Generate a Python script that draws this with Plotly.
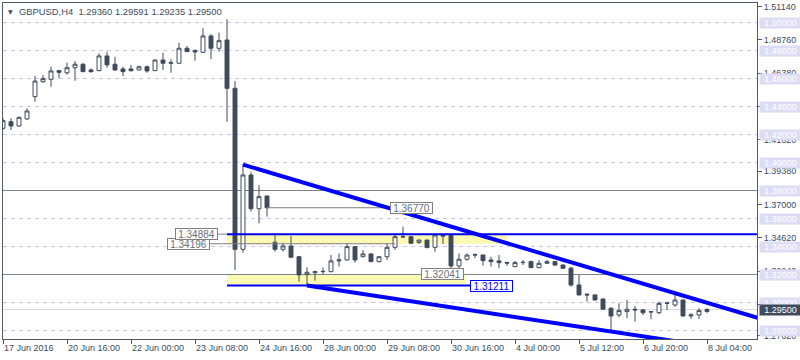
import plotly.graph_objects as go

# ---------------- data ----------------
bar_index = list(range(89))
opens = [1.4244, 1.4291, 1.4261, 1.4311, 1.4470, 1.4577, 1.4594, 1.4656, 1.4641, 1.4677,
         1.4702, 1.4661, 1.4656, 1.4761, 1.4702, 1.4668, 1.4668, 1.4661, 1.4684, 1.4656,
         1.4732, 1.4709, 1.4709, 1.4816, 1.4799, 1.4787, 1.4904, 1.4816, 1.4875, 1.4530,
         1.3380, 1.3911, 1.3670, 1.3761, 1.3430, 1.3380, 1.3404, 1.3327, 1.3199, 1.3213,
         1.3220, 1.3220, 1.3297, 1.3304, 1.3399, 1.3327, 1.3347, 1.3292, 1.3327, 1.3394,
         1.3470, 1.3470, 1.3430, 1.3446, 1.3394, 1.3482, 1.3480, 1.3261, 1.3309, 1.3339,
         1.3339, 1.3304, 1.3297, 1.3285, 1.3256, 1.3285, 1.3292, 1.3249, 1.3280, 1.3292,
         1.3268, 1.3245, 1.3125, 1.3059, 1.3054, 1.3025, 1.2959, 1.2911, 1.2935, 1.2952,
         1.2947, 1.2935, 1.2927, 1.2994, 1.2982, 1.3018, 1.2904, 1.2911, 1.29360]
highs = [1.4316, 1.4316, 1.4327, 1.4387, 1.4618, 1.4625, 1.4684, 1.4661, 1.4713, 1.4725,
         1.4709, 1.4673, 1.4780, 1.4792, 1.4756, 1.4684, 1.4697, 1.4692, 1.4692, 1.4737,
         1.4784, 1.4737, 1.4856, 1.4832, 1.4809, 1.4959, 1.4916, 1.4927, 1.5023, 1.4582,
         1.3987, 1.3934, 1.3839, 1.3761, 1.3494, 1.3427, 1.3475, 1.3330, 1.3251, 1.3227,
         1.3251, 1.3340, 1.3351, 1.3423, 1.3401, 1.3375, 1.3351, 1.3332, 1.3423, 1.3482,
         1.3541, 1.3477, 1.3448, 1.3448, 1.3494, 1.3487, 1.3484, 1.3351, 1.3351, 1.3351,
         1.3343, 1.3327, 1.3340, 1.3292, 1.3297, 1.3304, 1.3299, 1.3304, 1.3304, 1.3294,
         1.3270, 1.3256, 1.3196, 1.3066, 1.3057, 1.3030, 1.2966, 1.2994, 1.3018, 1.2975,
         1.2952, 1.2937, 1.3006, 1.3006, 1.3054, 1.3020, 1.2923, 1.2959, 1.29591]
lows = [1.4232, 1.4232, 1.4255, 1.4305, 1.4434, 1.4570, 1.4541, 1.4602, 1.4627, 1.4584,
        1.4645, 1.4641, 1.4652, 1.4677, 1.4654, 1.4618, 1.4649, 1.4658, 1.4641, 1.4654,
        1.4661, 1.4641, 1.4705, 1.4790, 1.4727, 1.4785, 1.4739, 1.4792, 1.4291, 1.3232,
        1.3356, 1.3649, 1.3566, 1.3613, 1.3363, 1.3363, 1.3320, 1.3149, 1.31211, 1.3156,
        1.3203, 1.3217, 1.3256, 1.3300, 1.3285, 1.3323, 1.3290, 1.3287, 1.3304, 1.3375,
        1.3466, 1.3420, 1.3418, 1.3388, 1.3363, 1.3418, 1.3222, 1.3232, 1.3299, 1.3316,
        1.3263, 1.3256, 1.3245, 1.3261, 1.3254, 1.3268, 1.3245, 1.3245, 1.3276, 1.3261,
        1.3243, 1.3113, 1.3050, 1.3006, 1.3015, 1.2950, 1.2792, 1.2894, 1.2888, 1.2863,
        1.2911, 1.2880, 1.2916, 1.2946, 1.2970, 1.2899, 1.2882, 1.2882, 1.29235]
closes = [1.4299, 1.4261, 1.4323, 1.4368, 1.4582, 1.4599, 1.4654, 1.4644, 1.4677, 1.4702,
          1.4649, 1.4649, 1.4761, 1.4697, 1.4661, 1.4649, 1.4656, 1.4684, 1.4654, 1.4732,
          1.4709, 1.4713, 1.4816, 1.4792, 1.4790, 1.4904, 1.4816, 1.4870, 1.4530, 1.3380,
          1.3911, 1.3670, 1.3756, 1.3677, 1.3380, 1.3404, 1.3323, 1.3197, 1.3216, 1.3220,
          1.3222, 1.3297, 1.3304, 1.3399, 1.3304, 1.3347, 1.3292, 1.3327, 1.3394, 1.3470,
          1.3468, 1.3423, 1.3446, 1.3392, 1.3482, 1.3475, 1.3261, 1.3309, 1.3339, 1.3341,
          1.3299, 1.3292, 1.3285, 1.3282, 1.3285, 1.3287, 1.3249, 1.3280, 1.3292, 1.3268,
          1.3245, 1.3125, 1.3054, 1.3054, 1.3018, 1.2952, 1.2904, 1.2942, 1.2952, 1.2947,
          1.2927, 1.2933, 1.2994, 1.2996, 1.3018, 1.2904, 1.2911, 1.2942, 1.29500]

x_tick_pos = [0, 8, 16, 24, 32, 40, 48, 56, 64, 72, 80, 88]
x_tick_labels = ["17 Jun 2016", "20 Jun 16:00", "22 Jun 00:00", "23 Jun 08:00",
                 "24 Jun 16:00", "28 Jun 00:00", "29 Jun 08:00", "30 Jun 16:00",
                 "4 Jul 00:00", "5 Jul 12:00", "6 Jul 20:00", "8 Jul 04:00"]
y_tick_vals = [1.51140, 1.48760, 1.46380, 1.44000, 1.41620, 1.39380, 1.37000,
               1.34620, 1.32240, 1.29860, 1.27620]

level_lines = [1.50, 1.48, 1.46, 1.44, 1.42, 1.40, 1.38, 1.36, 1.34, 1.32, 1.30, 1.28]
solid_levels = [1.38, 1.32]
bid_price = 1.29500

upper_zone = [1.34196, 1.34884]
upper_zone_x = [28, 63]
lower_zone = [1.31211, 1.3196]
lower_zone_x = [28, 57.75]
upper_hline_x = [28, 94.25]
lower_hline_x = [28, 58.5]
upper_trend = [(30, 1.3985), (94.5, 1.2888)]
lower_trend = [(38, 1.31211), (95, 1.2629)]

label_36770 = (51.0, 1.36770)
label_36770_line = [33, 48.4]
label_34884 = (24.2, 1.34884)
label_34884_line = [26.9, 28]
label_34196 = (23.2, 1.34196)
label_34196_line = [25.9, 49]
label_32041 = (54.9, 1.32041)
label_31211 = (61.1, 1.31211)

symbol = "GBPUSD,H4"

# ---------------- style ----------------
DARK = "#3f4b5b"
FRAME = "#4f5966"
TXT = "#3d4a5c"
FONT = "Liberation Sans"
X_MAX = 94.25
Y_MIN, Y_MAX = 1.27393, 1.51393

fig = go.Figure()
fig.add_trace(go.Candlestick(
    x=bar_index, open=opens, high=highs, low=lows, close=closes,
    increasing=dict(line=dict(color=DARK, width=1), fillcolor="white"),
    decreasing=dict(line=dict(color=DARK, width=1), fillcolor=DARK),
    whiskerwidth=0, hoverinfo="skip", showlegend=False,
))

shapes = []
for (y0, y1), (x0, x1) in [(upper_zone, upper_zone_x), (lower_zone, lower_zone_x)]:
    shapes.append(dict(type="rect", xref="x", yref="y", x0=x0, x1=x1, y0=y0, y1=y1,
                       fillcolor="#fcf9b0", line=dict(width=0), layer="below"))
for lvl in level_lines:
    if lvl in solid_levels:
        shapes.append(dict(type="line", xref="paper", yref="y", x0=0, x1=1, y0=lvl, y1=lvl,
                           line=dict(color="#7d848d", width=1), layer="below"))
    else:
        shapes.append(dict(type="line", xref="paper", yref="y", x0=0, x1=1, y0=lvl, y1=lvl,
                           line=dict(color="#c6c6f0", width=1, dash="4px,4px"), layer="below"))
shapes.append(dict(type="line", xref="paper", yref="y", x0=0, x1=1, y0=bid_price, y1=bid_price,
                   line=dict(color="#dcdcdc", width=1), layer="below"))
for (x0, x1), yv in [(label_36770_line, label_36770[1]), (label_34884_line, label_34884[1]),
                     (label_34196_line, label_34196[1])]:
    shapes.append(dict(type="line", xref="x", yref="y", x0=x0, x1=x1, y0=yv, y1=yv,
                       line=dict(color="#808080", width=1), layer="above"))
shapes.append(dict(type="line", xref="x", yref="y", x0=upper_hline_x[0], x1=upper_hline_x[1],
                   y0=upper_zone[1], y1=upper_zone[1], line=dict(color="#0000ff", width=2), layer="above"))
shapes.append(dict(type="line", xref="x", yref="y", x0=lower_hline_x[0], x1=lower_hline_x[1],
                   y0=lower_zone[0], y1=lower_zone[0], line=dict(color="#0000ff", width=2), layer="above"))
for (p0, p1) in [upper_trend, lower_trend]:
    shapes.append(dict(type="line", xref="x", yref="y", x0=p0[0], y0=p0[1], x1=p1[0], y1=p1[1],
                       line=dict(color="#0000ff", width=4), layer="above"))

annotations = []
for lvl in level_lines:
    annotations.append(dict(xref="paper", yref="y", x=1, y=lvl, xanchor="left", yanchor="middle",
                            xshift=2, text=f"{lvl:.5f}", showarrow=False, width=41, height=10,
                            bgcolor="#dcdcf5", borderpad=0,
                            font=dict(family=FONT, size=9, color="white")))
annotations.append(dict(xref="paper", yref="y", x=1, y=bid_price, xanchor="left", yanchor="middle",
                        xshift=2, text=f"{bid_price:.5f}", showarrow=False, width=41, height=10,
                        bgcolor=DARK, borderpad=0,
                        font=dict(family=FONT, size=9, color="white")))
for (lx, ly), col in [(label_34196, "#808080"), (label_34884, "#808080"), (label_36770, "#808080"),
                      (label_32041, "#808080"), (label_31211, "#0000ff")]:
    annotations.append(dict(xref="x", yref="y", x=lx, y=ly, xanchor="center", yanchor="middle",
                            text=f"{ly:.5f}", showarrow=False, bgcolor="white",
                            bordercolor=col, borderwidth=1, borderpad=0, width=41, height=10,
                            font=dict(family=FONT, size=10, color=("#0000ff" if col == "#0000ff" else "#6a6f78"))))
title_text = f"{symbol}  {opens[-1]:.5f} {highs[-1]:.5f} {lows[-1]:.5f} {closes[-1]:.5f}"
annotations.append(dict(xref="paper", yref="paper", x=0, y=1, xanchor="left", yanchor="middle",
                        xshift=14, yshift=-8, text=title_text, showarrow=False,
                        font=dict(family=FONT, size=9.4, color=TXT)))
annotations.append(dict(xref="paper", yref="paper", x=0, y=1, xanchor="left", yanchor="middle",
                        xshift=3, yshift=-8, text="▼", showarrow=False,
                        font=dict(family="DejaVu Sans", size=6, color=TXT)))

fig.update_layout(
    width=800, height=360, autosize=False,
    margin=dict(l=3, r=43, t=3, b=21, pad=0),
    paper_bgcolor="white", plot_bgcolor="white",
    showlegend=False, hovermode=False,
    shapes=shapes, annotations=annotations,
    xaxis=dict(range=[0, X_MAX], tickvals=x_tick_pos, ticktext=x_tick_labels,
               ticklabelposition="outside right", ticks="outside", ticklen=4, tickcolor=FRAME,
               showgrid=False, zeroline=False, showline=True, mirror=True, linecolor=FRAME,
               linewidth=1, rangeslider=dict(visible=False),
               tickfont=dict(family=FONT, size=9, color=TXT), fixedrange=True),
    yaxis=dict(range=[Y_MIN, Y_MAX], side="right", tickvals=y_tick_vals,
               ticktext=[f"{v:.5f}" for v in y_tick_vals], ticks="outside", ticklen=4,
               tickcolor=FRAME, showgrid=False, zeroline=False, showline=True, mirror=True,
               linecolor=FRAME, linewidth=1,
               tickfont=dict(family=FONT, size=9, color=TXT), fixedrange=True),
)

fig.write_html("out.html", config={"displayModeBar": False},
               post_script="document.body.style.margin='0';document.body.style.overflow='hidden';")
